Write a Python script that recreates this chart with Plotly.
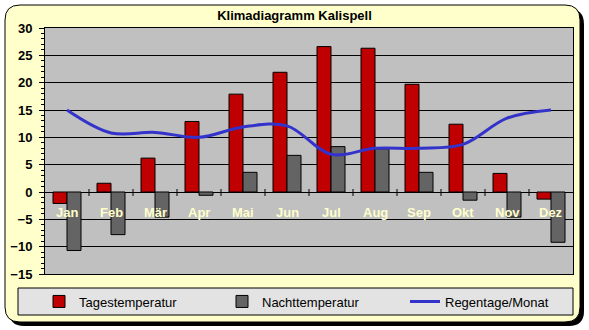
import plotly.graph_objects as go

months = ['Jan', 'Feb', 'Mär', 'Apr', 'Mai', 'Jun', 'Jul', 'Aug', 'Sep', 'Okt', 'Nov', 'Dez']
tagestemperatur = [-2.1, 1.6, 6.2, 12.9, 17.9, 21.9, 26.6, 26.3, 19.7, 12.4, 3.4, -1.3]
nachttemperatur = [-10.7, -7.8, -4.6, -0.6, 3.6, 6.7, 8.3, 7.9, 3.6, -1.5, -4.6, -9.2]
regentage = [15.0, 10.8, 10.9, 10.0, 11.9, 12.1, 6.9, 8.0, 8.0, 8.7, 13.5, 15.0]
y_ticks = [-15, -10, -5, 0, 5, 10, 15, 20, 25, 30]

W, H = 589, 330
FONT = 'Liberation Sans, Arial, sans-serif'


def px(x):
    return x / W


def py(y):
    return 1 - y / H


def rounded_rect(x0, y0, x1, y1, r):
    rx, ry = r / W, r / H
    X0, X1, Y0, Y1 = px(x0), px(x1), py(y0), py(y1)
    return (f"M{X0 + rx},{Y0} L{X1 - rx},{Y0} Q{X1},{Y0} {X1},{Y0 - ry} "
            f"L{X1},{Y1 + ry} Q{X1},{Y1} {X1 - rx},{Y1} "
            f"L{X0 + rx},{Y1} Q{X0},{Y1} {X0},{Y1 + ry} "
            f"L{X0},{Y0 - ry} Q{X0},{Y0} {X0 + rx},{Y0} Z")


fig = go.Figure()
fig.add_trace(go.Bar(x=months, y=tagestemperatur, name='Tagestemperatur',
                     marker=dict(color='#C00000', line=dict(color='black', width=1))))
fig.add_trace(go.Bar(x=months, y=nachttemperatur, name='Nachttemperatur',
                     marker=dict(color='#646464', line=dict(color='black', width=1))))
fig.add_trace(go.Scatter(x=months, y=regentage, name='Regentage/Monat', mode='lines',
                         line=dict(color='#3333CC', width=3, shape='spline', smoothing=1)))

shapes = [
    # shadow + frame
    dict(type='path', xref='paper', yref='paper', layer='below',
         path=rounded_rect(9, 9, 584, 326, 15), fillcolor='black', line=dict(width=0)),
    dict(type='path', xref='paper', yref='paper', layer='below',
         path=rounded_rect(5, 5, 580, 322, 15), fillcolor='#FFFFCC',
         line=dict(color='black', width=1)),
    # legend box
    dict(type='rect', xref='paper', yref='paper', layer='below',
         x0=px(18), x1=px(573), y0=py(315), y1=py(288), fillcolor='#E3E3E3',
         line=dict(color='black', width=1)),
    # plot area background
    dict(type='rect', xref='x domain', yref='y domain', layer='below',
         x0=0, x1=1, y0=0, y1=1, fillcolor='#C0C0C0', line=dict(width=0)),
]
# category tick marks crossing the zero line
for i in range(1, len(months)):
    shapes.append(dict(type='line', xref='x', yref='y', ysizemode='pixel', yanchor=0,
                       x0=i - 0.5, x1=i - 0.5, y0=-4, y1=3, layer='above',
                       line=dict(color='black', width=1)))

annotations = [dict(x=m, y=0, xref='x', yref='y', text=m, showarrow=False, yshift=-20,
                    font=dict(family=FONT, size=13, color='#FFFFCC', weight='bold'))
               for m in months]

fig.update_layout(
    width=W, height=H, margin=dict(l=0, r=0, t=0, b=0, autoexpand=False),
    paper_bgcolor='white', plot_bgcolor='#C0C0C0',
    barmode='group', bargap=0.3636, bargroupgap=0,
    title=dict(text='Klimadiagramm Kalispell', x=0.5, xanchor='center', xref='paper',
               y=py(15), yanchor='middle', yref='paper', automargin=False,
               font=dict(family=FONT, size=13, color='black', weight='bold')),
    showlegend=True,
    legend=dict(orientation='h', x=px(39), xanchor='left', y=py(301.5), yanchor='middle',
                bgcolor='rgba(0,0,0,0)', borderwidth=0, entrywidth=138,
                font=dict(family=FONT, size=13, color='black'), traceorder='normal'),
    xaxis=dict(domain=[px(45), px(573)], range=[-0.5, len(months) - 0.5],
               showticklabels=False, ticks='', showgrid=False, zeroline=False,
               showline=True, mirror=True, linecolor='black', linewidth=1,
               fixedrange=True, automargin=False),
    yaxis=dict(domain=[py(274), py(28)], range=[-15, 30], tickvals=y_ticks,
               showgrid=True, gridcolor='black', gridwidth=1,
               zeroline=True, zerolinecolor='black', zerolinewidth=1,
               showline=True, mirror=True, linecolor='black', linewidth=1,
               ticks='outside', ticklen=5, tickcolor='black', tickwidth=1,
               ticklabelstandoff=4,
               minor=dict(dtick=1, ticks='outside', ticklen=3, tickcolor='black', showgrid=False),
               tickfont=dict(family=FONT, size=13, color='black', weight='bold'),
               fixedrange=True, automargin=False),
    shapes=shapes,
    annotations=annotations,
)

fig.write_html('out.html')
